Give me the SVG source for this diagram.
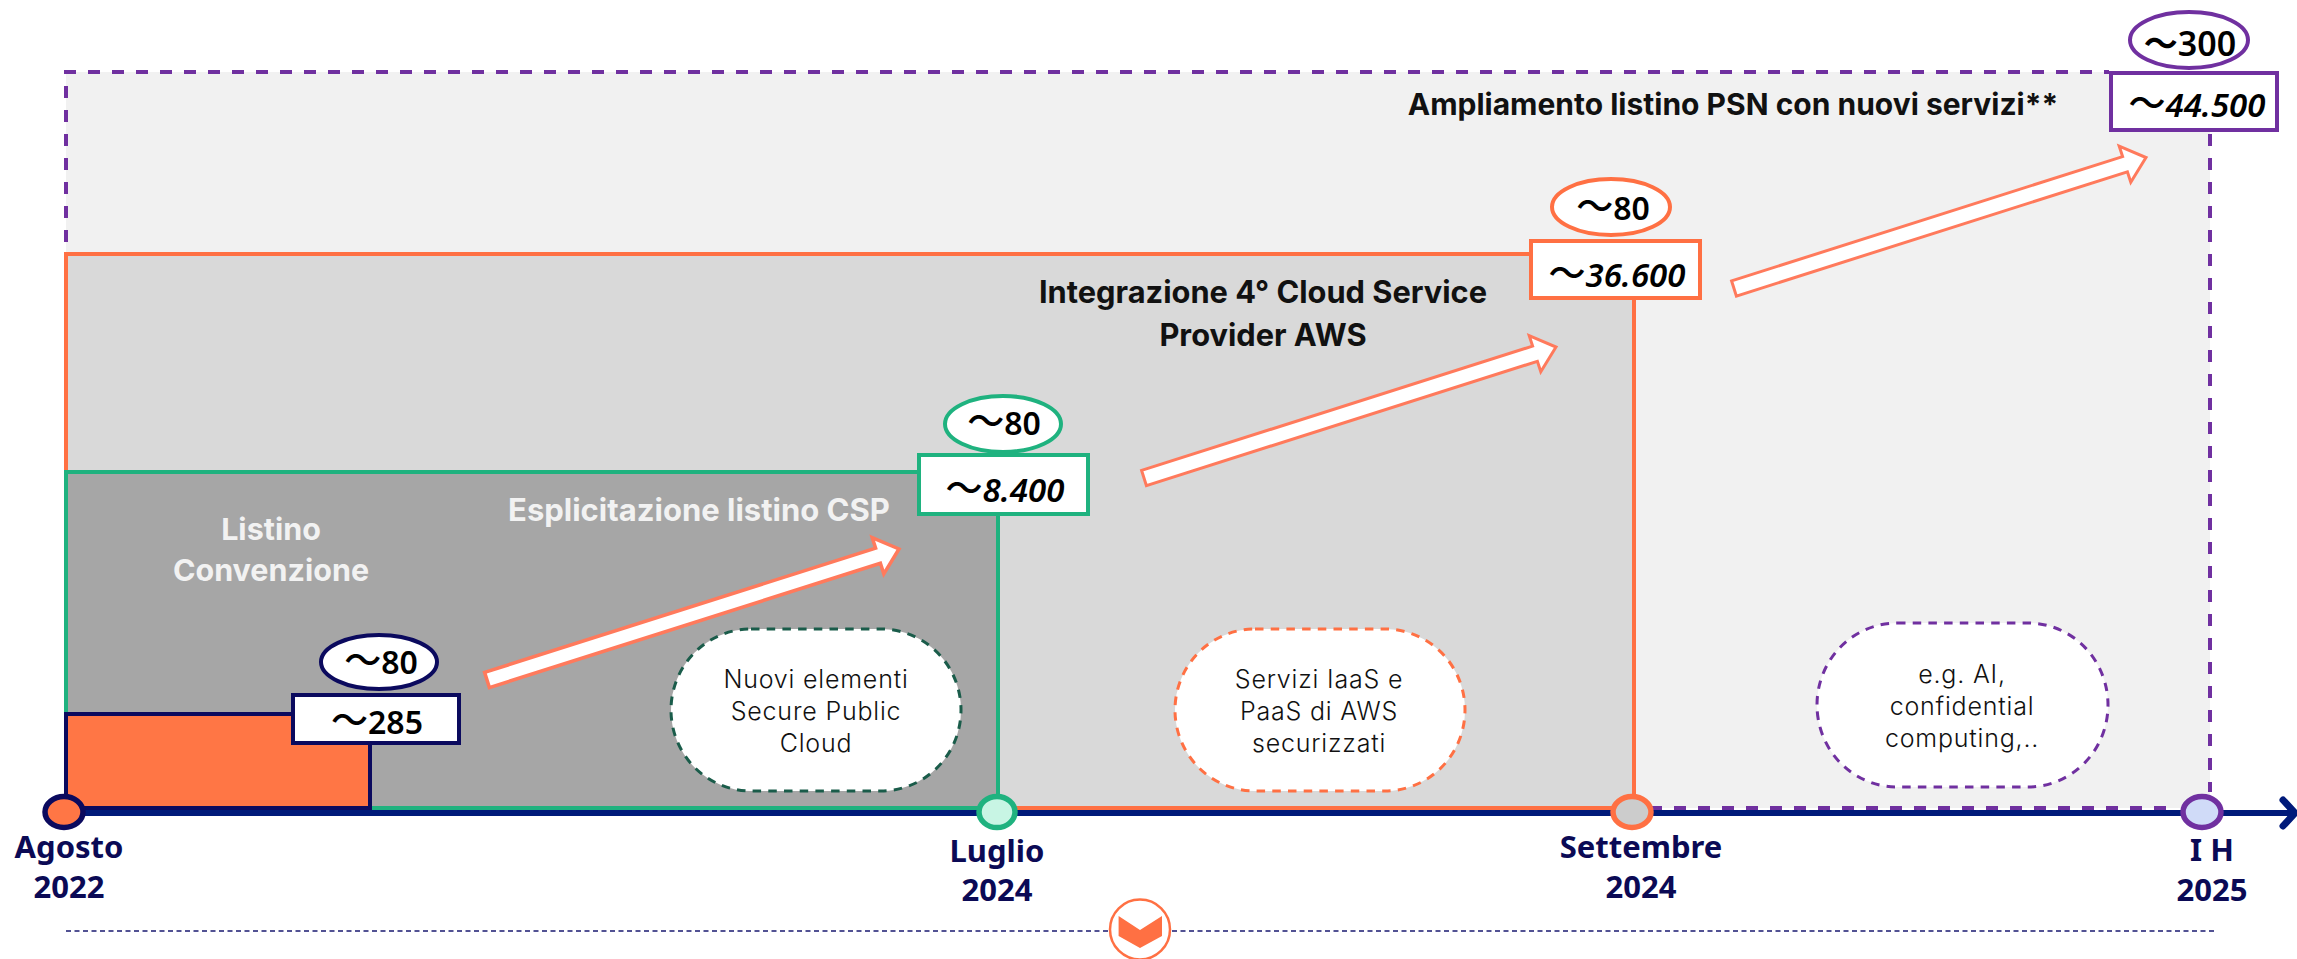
<svg xmlns="http://www.w3.org/2000/svg" xmlns:xlink="http://www.w3.org/1999/xlink" width="2297" height="959" viewBox="0 0 2297 959">
<style>
text{font-family:"Noto Sans","Noto Sans CJK JP",sans-serif}
.num{font-size:32px;font-weight:600;fill:#000;text-anchor:middle}
.it{font-style:italic;font-size:33px}
.tl{font-size:37px;font-style:normal;font-weight:500}
.date{font-size:31px;font-weight:700;fill:#0B0A55;text-anchor:middle}
.h{font-family:Inter,"Noto Sans",sans-serif;font-size:30px;font-weight:700;fill:#111;text-anchor:middle}
.w{font-family:Inter,"Noto Sans",sans-serif;font-size:30.5px;font-weight:700;fill:#F2F2F2;text-anchor:middle}
.blobt{font-family:Inter,"Noto Sans",sans-serif;font-size:25px;font-weight:300;letter-spacing:.8px;fill:#111;text-anchor:middle}
.box{fill:#fff;stroke-width:4}
.arrow{fill:#fff;stroke:#FF7A5C;stroke-width:3}
.blob{fill:#fff;stroke-width:3;stroke-dasharray:8.5 7.2}
.node{stroke-width:5.5}
.pd{fill:none;stroke:#7030A0;stroke-width:4;stroke-dasharray:12 12}
</style>
<defs>
<polygon id="arr" points="-2.4,-7.6 388.6,-131.9 385.2,-142.4 412,-131 396.8,-106.2 393.4,-116.7 2.4,7.6"/>
</defs>
<rect x="0" y="0" width="2297" height="959" fill="#fff"/>
<g id="panel-psn">
<rect x="66" y="72" width="2144" height="736" fill="#F1F1F1"/>
<path class="pd" d="M64 72H2109"/>
<path class="pd" d="M66 86V252"/>
<path class="pd" d="M2210 134V792"/>
<path class="pd" d="M1650 808H2170"/>
</g>
<g id="panel-aws">
<rect x="66" y="254" width="1568" height="554" fill="#D9D9D9" stroke="#FF7043" stroke-width="4"/>
</g>
<g id="panel-csp">
<rect x="66" y="472" width="932" height="336" fill="#A6A6A6" stroke="#1FB27F" stroke-width="4"/>
</g>
<g id="panel-convenzione">
<rect x="66" y="714" width="304" height="94" fill="#FF7645" stroke="#0B0A5E" stroke-width="4"/>
</g>
<g id="connectors">
<line x1="64" y1="813" x2="2292" y2="813" stroke="#001A7A" stroke-width="6"/>
<polyline points="2283,800 2295,813 2283,826" fill="none" stroke="#001A7A" stroke-width="7" stroke-linecap="round"/>
<use href="#arr" class="arrow" style="stroke-width:3.5" transform="translate(487,680)"/>
<use href="#arr" class="arrow" transform="translate(1144,478)"/>
<use href="#arr" class="arrow" transform="translate(1734,288.5)"/>
<path d="M66 931H1108M1172 931H2214" fill="none" stroke="#1A1A70" stroke-width="1.5" stroke-dasharray="5 3.5"/>
</g>
<g id="text-psn"><text class="h" x="1733" y="115">Ampliamento listino PSN con nuovi servizi**</text></g>
<g id="text-aws"><text class="h" x="1263" y="303" style="font-size:30.8px">Integrazione 4° Cloud Service</text><text class="h" x="1263" y="346" style="font-size:30.8px">Provider AWS</text></g>
<g id="text-csp"><text class="w" x="699" y="521" style="font-size:31px">Esplicitazione listino CSP</text></g>
<g id="text-conv"><text class="w" x="271" y="540">Listino</text><text class="w" x="271" y="581">Convenzione</text></g>
<g id="blob-secure">
<rect class="blob" x="671" y="629" width="290" height="162" rx="80" ry="81" stroke="#1A5C4A"/>
<text class="blobt" x="816" y="688">Nuovi elementi</text><text class="blobt" x="816" y="720">Secure Public</text><text class="blobt" x="816" y="752">Cloud</text>
</g>
<g id="blob-aws">
<rect class="blob" x="1175" y="629" width="290" height="162" rx="80" ry="81" stroke="#FF7043"/>
<text class="blobt" x="1319" y="688">Servizi IaaS e</text><text class="blobt" x="1319" y="720">PaaS di AWS</text><text class="blobt" x="1319" y="752">securizzati</text>
</g>
<g id="blob-ai">
<rect class="blob" x="1817" y="623" width="291" height="164" rx="80" ry="82" stroke="#7030A0"/>
<text class="blobt" x="1962" y="683">e.g. AI,</text><text class="blobt" x="1962" y="715">confidential</text><text class="blobt" x="1962" y="747">computing,..</text>
</g>
<g id="milestone-2022">
<ellipse cx="379" cy="662" rx="58" ry="27" fill="#fff" stroke="#0B0A5E" stroke-width="4"/>
<text class="num" x="381" y="674"><tspan class="tl">～</tspan>80</text>
<rect class="box" x="293" y="695" width="166" height="48" stroke="#0B0A5E"/>
<text class="num" x="377" y="734"><tspan class="tl">～</tspan>285</text>
<ellipse class="node" cx="64" cy="812" rx="19" ry="15.5" fill="#FF7645" stroke="#0B0A5E"/>
<text class="date" x="69" y="858">Agosto</text><text class="date" x="69" y="898">2022</text>
</g>
<g id="milestone-lug2024">
<ellipse cx="1003" cy="424" rx="58" ry="28" fill="#fff" stroke="#1FB27F" stroke-width="4"/>
<text class="num" x="1004" y="435"><tspan class="tl">～</tspan>80</text>
<rect class="box" x="919" y="455" width="169" height="59" stroke="#1FB27F"/>
<text class="num it" x="1005" y="502"><tspan class="tl">～</tspan>8.400</text>
<ellipse class="node" cx="997" cy="812" rx="18" ry="15.5" fill="#C8F5E4" stroke="#1FB27F"/>
<text class="date" x="997" y="862">Luglio</text><text class="date" x="997" y="901">2024</text>
</g>
<g id="milestone-set2024">
<ellipse cx="1611" cy="207" rx="59" ry="28" fill="#fff" stroke="#FF7043" stroke-width="4"/>
<text class="num" x="1613" y="220"><tspan class="tl">～</tspan>80</text>
<rect class="box" x="1531" y="241" width="169" height="57" stroke="#FF7043"/>
<text class="num it" x="1617" y="287"><tspan class="tl">～</tspan>36.600</text>
<ellipse class="node" cx="1632" cy="812" rx="19" ry="15.5" fill="#CCCCCC" stroke="#FF7043"/>
<text class="date" x="1641" y="858">Settembre</text><text class="date" x="1641" y="898">2024</text>
</g>
<g id="milestone-2025">
<ellipse cx="2189" cy="40" rx="59" ry="28" fill="#fff" stroke="#7030A0" stroke-width="4"/>
<text class="num" x="2190" y="56" style="font-size:34px">～300</text>
<rect class="box" x="2111" y="73" width="166" height="57" stroke="#7030A0"/>
<text class="num it" x="2197" y="117"><tspan class="tl">～</tspan>44.500</text>
<ellipse class="node" cx="2202" cy="812" rx="19" ry="15.5" fill="#D0DBF8" stroke="#7030A0"/>
<text class="date" x="2212" y="861">I H</text><text class="date" x="2212" y="901">2025</text>
</g>
<g id="badge">
<circle cx="1140" cy="929.5" r="30" fill="#fff" stroke="#FF7043" stroke-width="2.5"/>
<polygon points="1118.6,916 1140,930 1162,916 1162,936 1140,948 1118.6,936" fill="#FF7043"/>
</g>
</svg>
